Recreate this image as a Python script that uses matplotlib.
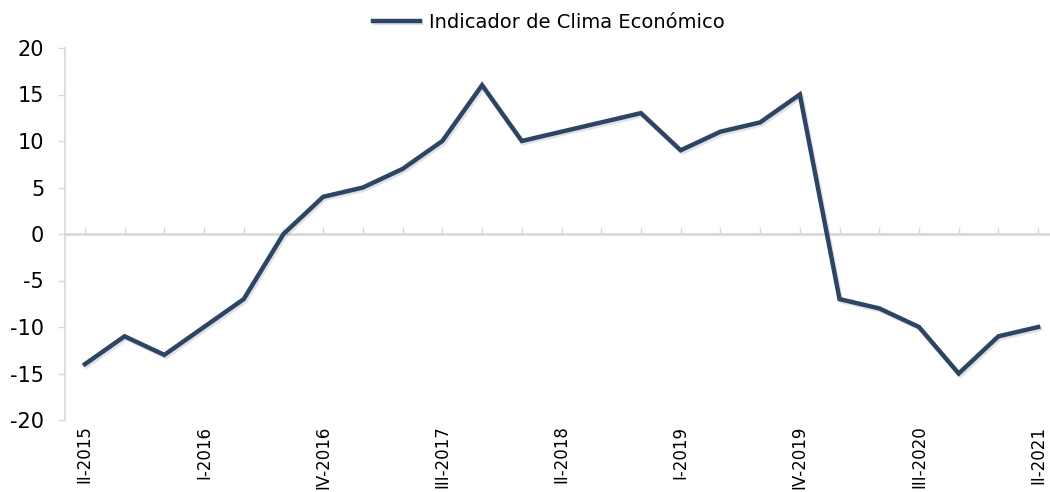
import numpy as np
import matplotlib.pyplot as plt
import matplotlib.patheffects as pe

plt.rcParams['axes.unicode_minus'] = False

quarters = ['II-2015', 'III-2015', 'IV-2015',
            'I-2016', 'II-2016', 'III-2016', 'IV-2016',
            'I-2017', 'II-2017', 'III-2017', 'IV-2017',
            'I-2018', 'II-2018', 'III-2018', 'IV-2018',
            'I-2019', 'II-2019', 'III-2019', 'IV-2019',
            'I-2020', 'II-2020', 'III-2020', 'IV-2020',
            'I-2021', 'II-2021']
ice = [-14, -11, -13,
       -10, -7, 0, 4,
       5, 7, 10, 16,
       10, 11, 12, 13,
       9, 11, 12, 15,
       -7, -8, -10, -15,
       -11, -10]
label_every = 3
series_name = 'Indicador de Clima Económico'

line_color = '#2b4566'
axis_color = '#d9d9d9'

fig = plt.figure(figsize=(10.5, 4.92), dpi=100)
# axes run slightly past the right edge, like the cropped original
ax = fig.add_axes([65/1050, 1 - 420/492, 993/1050, 372/492])

x = np.arange(len(quarters))
ax.plot(x, ice, color=line_color, lw=3.2, solid_joinstyle='miter',
        label=series_name,
        path_effects=[pe.SimpleLineShadow(offset=(1.2, -1.5), shadow_color='#888888', alpha=0.25),
                      pe.Normal()])

ax.set_xlim(-0.5, len(quarters) - 0.5)
ax.set_ylim(-20, 20)
ax.set_yticks(np.arange(-20, 21, 5))
ax.tick_params(axis='y', direction='out', length=5, width=1, color=axis_color,
               labelsize=15, pad=10)

# category labels at the bottom, every third quarter
ax.set_xticks(x[::label_every])
ax.set_xticklabels(quarters[::label_every], rotation=90, va='top', ha='center')
ax.tick_params(axis='x', length=0, labelsize=12, pad=4)

for s in ['top', 'right', 'bottom']:
    ax.spines[s].set_visible(False)
ax.spines['left'].set_color(axis_color)
ax.spines['left'].set_linewidth(1.2)

# category axis crossing at zero, tick at every quarter
zero_ax = ax.secondary_xaxis(0.5)
zero_ax.set_xticks(x)
zero_ax.set_xticklabels([])
zero_ax.tick_params(direction='out', length=5, width=1, color=axis_color)
for sp in zero_ax.spines.values():
    sp.set_color(axis_color)
    sp.set_linewidth(2)

fig.legend(loc='center', bbox_to_anchor=(549/1050, 1 - 22/492), frameon=False,
           fontsize=14, handlelength=2.4, handletextpad=0.5)

fig.savefig('out.png', dpi=100)
